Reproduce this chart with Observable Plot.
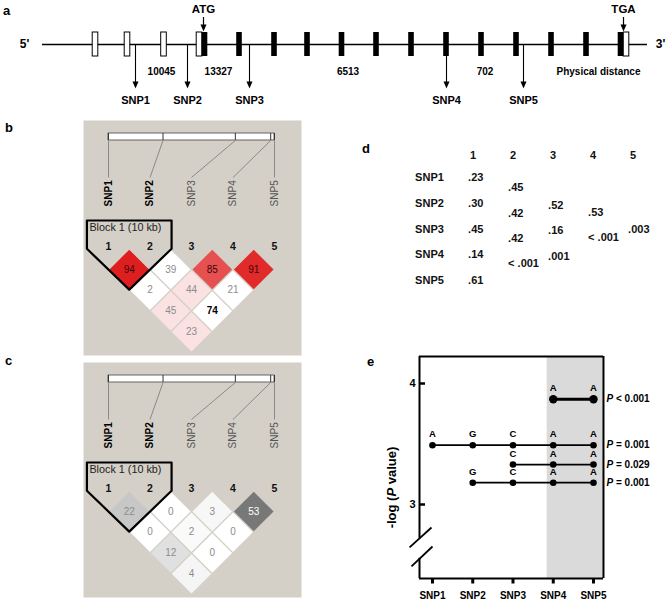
<!DOCTYPE html>
<html>
<head>
<meta charset="utf-8">
<script src="https://cdn.jsdelivr.net/npm/d3@7"></script>
<script src="https://cdn.jsdelivr.net/npm/@observablehq/plot@0.6"></script>
<style>
html, body { margin: 0; padding: 0; background: #fff; }
#fig { position: relative; width: 671px; height: 602px; overflow: hidden; background: #fff;
  font-family: "Liberation Sans", Arial, Helvetica, sans-serif; }
#fig svg { position: absolute; }
.panel-letter { position: absolute; font-weight: bold; font-size: 13px; line-height: 13px; color: #000; }
</style>
</head>
<body>
<div id="fig"></div>
<script>
// ================= DATA =================
const snpNames = ["SNP1", "SNP2", "SNP3", "SNP4", "SNP5"];
const physicalDistances = [10045, 13327, 6513, 702];

// panel a: gene model, positions along the drawn gene axis
const geneExtent = [42, 647];
const utrExonPos = [95, 127, 163.5, 199, 626];
const codingExonPos = [204.5, 239, 274, 307, 341.5, 376, 411, 446, 481, 516, 551, 586, 620.5];
const snpGenePos = [135, 187, 249, 446, 523];
const codonLabels = ["ATG", "TGA"];
const codonPos = [203, 623];

// panels b / c: pairwise LD (pair = first SNP, second SNP)
const pairFirst  = [1, 2, 3, 4, 1, 2, 3, 1, 2, 1];
const pairSecond = [2, 3, 4, 5, 3, 4, 5, 4, 5, 5];
const dPrime      = [94, 39, 85, 91, 2, 44, 21, 45, 74, 23];
const dPrimeShade = [1, 0, 0.78, 0.95, 0, 0.13, 0, 0.13, 0, 0.13];
const dPrimeDarkLabel = [1, 0, 1, 1, 0, 0, 0, 0, 1, 0];
const r2 = [22, 0, 3, 53, 0, 2, 0, 12, 0, 4];
const blockLabel = "Block 1 (10 kb)";
const boldSnps = ["SNP1", "SNP2"];

// panel d: P-value table
const pColumns = [1, 2, 3, 4, 5];
const pTableCol  = [1, 1, 1, 1, 1, 2, 2, 2, 2, 3, 3, 3, 4, 4, 5];
const pTableRow  = [1, 2, 3, 4, 5, 1.39, 2.4, 3.37, 4.34, 2.09, 3.06, 4.07, 2.36, 3.33, 3.02];
const pTableText = [".23", ".30", ".45", ".14", ".61", ".45", ".42", ".42", "< .001", ".52", ".16", ".001", ".53", "< .001", ".003"];

// panel e: haplotype association
const hapPLabels = ["P < 0.001", "P = 0.001", "P = 0.029", "P = 0.001"];
const hapNegLogP = [3.87, 3.49, 3.33, 3.18];
const hapAlleles = [
  ["", "", "", "A", "A"],
  ["A", "G", "C", "A", "A"],
  ["", "", "C", "A", "A"],
  ["", "G", "C", "A", "A"]
];
const eYTicks = [3, 4];

// ================= DRAWING =================
const FONT = '"Liberation Sans", Arial, Helvetica, sans-serif';
const baseStyle = {fontFamily: FONT, fontSize: "10px", background: "transparent", overflow: "visible"};
const fig = document.getElementById("fig");
function place(svg, left, top) {
  svg.style.left = left + "px";
  svg.style.top = top + "px";
  fig.appendChild(svg);
}
function letter(t, left, baseline) {
  const d = document.createElement("div");
  d.className = "panel-letter";
  d.textContent = t;
  d.style.left = left + "px";
  d.style.top = (baseline - 11) + "px";
  fig.appendChild(d);
}

// ---------- panel a ----------
const downHead = {draw(ctx) { ctx.moveTo(-3, -7); ctx.lineTo(3, -7); ctx.lineTo(0, 0); ctx.closePath(); }};
const exonHalf = 2.8;
const snpA = snpNames.map((name, k) => ({name, x: snpGenePos[k]}));
const distA = physicalDistances.map((d, k) => ({d, x: (snpGenePos[k] + snpGenePos[k + 1]) / 2}));
const codonA = codonLabels.map((t, k) => ({t, x: codonPos[k]}));
const svgA = Plot.plot({
  width: 671, height: 115, margin: 0,
  x: {domain: [0, 671], range: [0, 671], axis: null},
  y: {domain: [-44, 71], range: [0, 115], axis: null},
  style: baseStyle,
  marks: [
    Plot.ruleY([0], {x1: geneExtent[0], x2: geneExtent[1], stroke: "#000", strokeWidth: 1.3}),
    Plot.rect(utrExonPos, {x1: d => d - exonHalf, x2: d => d + exonHalf, y1: -12, y2: 12, fill: "#fff", stroke: "#000", strokeWidth: 1}),
    Plot.rect(codingExonPos, {x1: d => d - exonHalf, x2: d => d + exonHalf, y1: -12, y2: 12, fill: "#000"}),
    Plot.text(["5'"], {x: geneExtent[0], dx: -18, y: 0, text: d => d, fontWeight: "bold", fontSize: 12}),
    Plot.text(["3'"], {x: geneExtent[1], dx: 13, y: 0, text: d => d, fontWeight: "bold", fontSize: 12}),
    // start / stop codons
    Plot.text(codonA, {x: "x", y: -35, text: "t", fontWeight: "bold", fontSize: 11.5}),
    Plot.ruleX(codonA, {x: "x", y1: -27, y2: -19, stroke: "#000", strokeWidth: 1.2}),
    Plot.dot(codonA, {x: "x", y: -13, symbol: downHead, fill: "#000", stroke: "none"}),
    // SNP arrows
    Plot.ruleX(snpA, {x: "x", y1: 0, y2: 38, stroke: "#000", strokeWidth: 1.1}),
    Plot.dot(snpA, {x: "x", y: 44, symbol: downHead, fill: "#000", stroke: "none"}),
    Plot.text(snpA, {x: "x", y: 56, text: "name", fontWeight: "bold", fontSize: 11}),
    Plot.text(distA, {x: "x", y: 27, text: d => String(d.d), fontWeight: "bold", fontSize: 10}),
    Plot.text(["Physical distance"], {x: 598, y: 27, text: d => d, fontWeight: "bold", fontSize: 10})
  ]
});
place(svgA, 0, 0);

// ---------- panels b / c ----------
function ldPanel(values, shade, colorOpts, labelFill) {
  const cells = values.map((v, k) => ({i: pairFirst[k], j: pairSecond[k], v, s: shade[k], k}));
  const cum = [0, ...d3.cumsum(physicalDistances)];
  const total = cum[cum.length - 1];
  const snpRows = snpNames.map((name, k) => ({name, k: k + 1, phys: 1 + 4 * cum[k] / total}));
  const BAR_TOP = -5.554, BAR_BOT = -5.217, LINK_END = -3.434, LABEL_TOP = -3.30;
  const BLOCK_TOP = -1.361, BLOCK_TEXT = -1.03, NUM_ROW = -0.108;
  const block = [[0.48, BLOCK_TOP], [2.52, BLOCK_TOP], [2.52, 0], [1.5, 1.97], [0.48, 0], [0.48, BLOCK_TOP]];
  const cx = d => (d.i + d.j) / 2, cy = d => d.j - d.i;
  const groups = d3.group(cells, d => labelFill(d));
  return Plot.plot({
    width: 218, height: 235, margin: 0,
    x: {domain: [1, 5], range: [25, 191], axis: null},
    y: {domain: [0, 4], range: [128.25, 211.25], axis: null},
    color: colorOpts,
    style: baseStyle,
    marks: [
      Plot.frame({fill: "#d4d0c8", stroke: "none"}),
      Plot.rect([0], {x1: 1, x2: 5, y1: BAR_TOP, y2: BAR_BOT, fill: "#fff", stroke: "#444", strokeWidth: 0.8}),
      Plot.ruleX(snpRows, {x: "phys", y1: BAR_TOP, y2: BAR_BOT, stroke: "#333", strokeWidth: 1}),
      Plot.link(snpRows, {x1: "phys", y1: BAR_BOT, x2: "k", y2: LINK_END, stroke: "#8a8a8a", strokeWidth: 1}),
      Plot.text(snpRows.filter(d => boldSnps.includes(d.name)), {x: "k", y: LABEL_TOP, text: "name", rotate: -90, textAnchor: "end", fontWeight: "bold", fill: "#000", fontSize: 10}),
      Plot.text(snpRows.filter(d => !boldSnps.includes(d.name)), {x: "k", y: LABEL_TOP, text: "name", rotate: -90, textAnchor: "end", fill: "#555", fontSize: 10}),
      Plot.text(snpRows, {x: "k", y: NUM_ROW, text: d => String(d.k), fontWeight: "bold", fontSize: 10.5, fill: "#111"}),
      Plot.dot(cells, {x: cx, y: cy, symbol: "square", rotate: 45, r: 15.8, fill: "s"}),
      ...Array.from(groups, ([col, arr]) =>
        Plot.text(arr, {x: cx, y: cy, text: d => String(d.v), fill: col, fontSize: 10,
          fontWeight: col === "#000" ? "bold" : "normal"})),
      Plot.line(block, {x: d => d[0], y: d => d[1], stroke: "#000", strokeWidth: 2.2}),
      Plot.text([blockLabel], {x: 0.54, y: BLOCK_TEXT, text: d => d, textAnchor: "start", fontSize: 10.8, fill: "#222"})
    ]
  });
}
const svgB = ldPanel(dPrime, dPrimeShade,
  {type: "linear", domain: [0, 1], range: ["#ffffff", "#df1f1f"], interpolate: "rgb"},
  d => d.s > 0.5 ? "#3a0808" : (dPrimeDarkLabel[d.k] ? "#000" : "#8c8c8c"));
place(svgB, 83, 120);

const svgC = ldPanel(r2, r2,
  {type: "linear", domain: [0, 100], range: ["#ffffff", "#000000"], interpolate: "rgb"},
  d => d.v > 40 ? "#ffffff" : "#8c8c8c");
place(svgC, 83, 362);

// ---------- panel d ----------
const svgD = Plot.plot({
  width: 331, height: 170, margin: 0,
  x: {domain: [1, 5], range: [132.6, 292.6], axis: null},
  y: {domain: [1, 5], range: [47, 150], axis: null},
  style: baseStyle,
  marks: [
    Plot.text(pColumns, {x: d => d, y: 0.146, text: d => String(d), fontWeight: "bold", fontSize: 11, fill: "#111"}),
    Plot.text(snpNames, {x: -0.45, y: (d, i) => i + 1, text: d => d, textAnchor: "start", fontWeight: "bold", fontSize: 11, fill: "#111"}),
    Plot.text(pTableText, {x: (d, i) => pTableCol[i], y: (d, i) => pTableRow[i], text: d => d, textAnchor: "start", dx: -5, fontWeight: "bold", fontSize: 11, fill: "#111"})
  ]
});
place(svgD, 340, 130);

// ---------- panel e ----------
const hapPoints = hapAlleles.flatMap((row, h) => row.map((a, k) => ({h, x: k + 1, y: hapNegLogP[h], a}))).filter(d => d.a);
const hapEnds = hapPLabels.map((p, h) => ({p, y: hapNegLogP[h]}));
const E = {x1: 0.677, x2: 5.248, y1: 2.388, y2: 4.223, shadeFrom: 3.85, breakTop: 2.72, breakBot: 2.555};
const slashes = [{x1: 0.43, y1: 2.645, x2: 0.975, y2: 2.81}, {x1: 0.478, y1: 2.488, x2: 1.0, y2: 2.653}];
const svgE = Plot.plot({
  width: 331, height: 262, margin: 0,
  x: {domain: [1, 5], range: [92, 253], axis: null},
  y: {domain: [3, 4], range: [164, 43], axis: null},
  style: baseStyle,
  marks: [
    Plot.rect([0], {x1: E.shadeFrom, x2: E.x2, y1: E.y1, y2: E.y2, fill: "#dadada"}),
    Plot.ruleY([E.y2], {x1: E.x1, x2: E.x2, stroke: "#000", strokeWidth: 2}),
    Plot.ruleY([E.y1], {x1: E.x1, x2: E.x2, stroke: "#000", strokeWidth: 2}),
    Plot.ruleX([E.x2], {y1: E.y1, y2: E.y2, stroke: "#000", strokeWidth: 2}),
    Plot.ruleX([E.x1], {y1: E.breakTop, y2: E.y2, stroke: "#000", strokeWidth: 2}),
    Plot.ruleX([E.x1], {y1: E.y1, y2: E.breakBot, stroke: "#000", strokeWidth: 2}),
    Plot.link(slashes, {x1: "x1", y1: "y1", x2: "x2", y2: "y2", stroke: "#000", strokeWidth: 1.8}),
    Plot.ruleY(eYTicks, {x1: E.x1, x2: E.x1 + 0.15, stroke: "#000", strokeWidth: 2.5}),
    Plot.text(eYTicks, {x: 0.578, y: d => d, text: d => String(d), textAnchor: "end", fontWeight: "bold", fontSize: 11}),
    Plot.ruleX(d3.range(1, 6), {y1: E.y1, y2: E.y1 - 0.045, stroke: "#000", strokeWidth: 3}),
    Plot.text(snpNames, {x: (d, i) => i + 1, y: 2.248, text: d => d, fontWeight: "bold", fontSize: 10}),
    Plot.line(hapPoints.filter(d => d.h === 0), {x: "x", y: "y", z: "h", stroke: "#000", strokeWidth: 3}),
    Plot.line(hapPoints.filter(d => d.h > 0), {x: "x", y: "y", z: "h", stroke: "#000", strokeWidth: 1.8}),
    Plot.dot(hapPoints.filter(d => d.h === 0), {x: "x", y: "y", r: 4.2, fill: "#000"}),
    Plot.dot(hapPoints.filter(d => d.h > 0), {x: "x", y: "y", r: 3.3, fill: "#000"}),
    Plot.text(hapPoints, {x: "x", y: "y", text: "a", dy: -11, fontWeight: "bold", fontSize: 9.5}),
    Plot.text(hapEnds, {x: 5.323, y: "y", text: "p", textAnchor: "start", fontWeight: "bold", fontSize: 10}),
    Plot.text(["-log (P value)"], {x: 0.0, y: 3.14, text: d => d, rotate: -90, fontWeight: "bold", fontSize: 13})
  ]
});
// italic P in texts
d3.select(svgE).selectAll("text").each(function () {
  const t = this.textContent;
  if (!(t.startsWith("P ") || t.includes("(P "))) return;
  const i = t.indexOf("P");
  const ns = "http://www.w3.org/2000/svg";
  this.textContent = "";
  if (i > 0) this.appendChild(document.createTextNode(t.slice(0, i)));
  const ts = document.createElementNS(ns, "tspan");
  ts.setAttribute("font-style", "italic");
  ts.textContent = "P";
  this.appendChild(ts);
  this.appendChild(document.createTextNode(t.slice(i + 1)));
});
place(svgE, 340, 340);

// panel letters
letter("a", 3, 15);
letter("b", 5, 132);
letter("c", 5, 365);
letter("d", 362, 153);
letter("e", 367, 366);
</script>
</body>
</html>
